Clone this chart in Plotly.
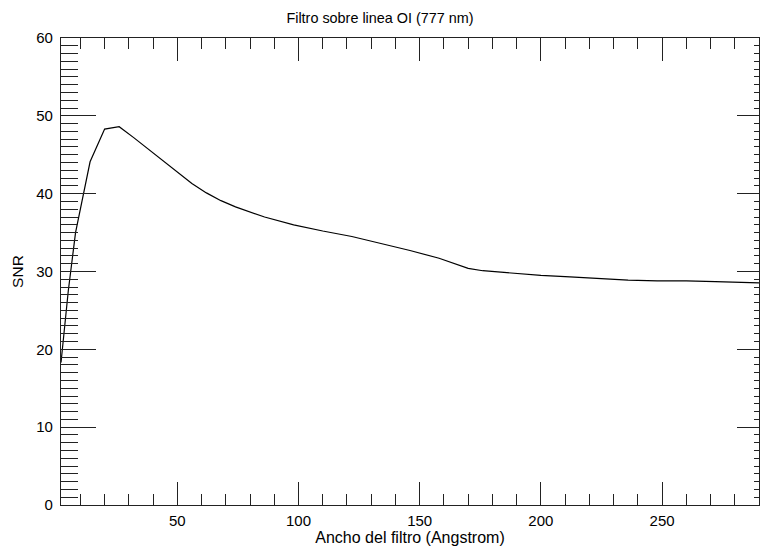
import plotly.graph_objects as go

ancho = [2, 5, 8, 14, 20, 26, 32, 38, 50, 56, 62, 68, 74, 86, 98, 110, 122, 134, 146, 158,
         164, 170, 176, 188, 200, 212, 224, 236, 248, 260, 272, 284, 290]
snr = [18.3, 27.5, 35.0, 44.1, 48.3, 48.6, 47.2, 45.7, 42.8, 41.3, 40.1, 39.1, 38.3,
       37.0, 36.0, 35.2, 34.5, 33.6, 32.7, 31.7, 31.0, 30.4, 30.1, 29.8, 29.5, 29.3,
       29.1, 28.9, 28.8, 28.8, 28.7, 28.6, 28.55]

x_range = [2, 290]
y_range = [0, 60]
x_ticks = [50, 100, 150, 200, 250]
y_ticks = [0, 10, 20, 30, 40, 50, 60]

font = "Liberation Sans, Arial, Helvetica, sans-serif"
axcol = "#222222"

fig = go.Figure()
fig.add_trace(go.Scatter(x=ancho, y=snr, mode="lines",
                         line=dict(color="black", width=1.2),
                         hoverinfo="skip", showlegend=False))
fig.add_trace(go.Scatter(x=ancho, y=snr, mode="lines", xaxis="x2", yaxis="y2",
                         line=dict(color="rgba(0,0,0,0)", width=0),
                         hoverinfo="skip", showlegend=False))

fig.update_layout(
    width=760, height=546,
    margin=dict(l=61, r=1, t=38, b=41),
    paper_bgcolor="white", plot_bgcolor="white",
    font=dict(family=font, size=15, color="black"),
    title=dict(text="Filtro sobre linea OI (777 nm)", x=0.5, xanchor="center",
               y=1 - 18 / 546, yanchor="middle", font=dict(size=14.4)),
    xaxis=dict(range=x_range, tickvals=x_ticks, ticks="inside", ticklen=23,
               tickwidth=1.3, tickcolor=axcol, showline=True, linecolor=axcol,
               linewidth=1.3, mirror=False, showgrid=False, zeroline=False,
               automargin=False,
               minor=dict(dtick=10, tick0=0, ticks="inside", ticklen=11,
                          tickwidth=1.3, tickcolor=axcol, showgrid=False),
               title=dict(text="Ancho del filtro (Angstrom)", standoff=0,
                          font=dict(size=16)),
               ticklabelstandoff=2, tickfont=dict(size=15)),
    yaxis=dict(range=y_range, tickvals=y_ticks, ticks="inside", ticklen=35,
               tickwidth=1.3, tickcolor=axcol, showline=True, linecolor=axcol,
               linewidth=1.3, mirror=False, showgrid=False, zeroline=False,
               automargin=False,
               minor=dict(dtick=1, tick0=0, ticks="inside", ticklen=17,
                          tickwidth=1.3, tickcolor=axcol, showgrid=False),
               title=dict(text="SNR", standoff=8, font=dict(size=15.5)),
               ticklabelstandoff=4, tickfont=dict(size=15)),
    xaxis2=dict(range=x_range, overlaying="x", side="top", anchor="y2",
                tickvals=x_ticks, ticks="inside", ticklen=23, tickwidth=1.3,
                tickcolor=axcol, showline=True, linecolor=axcol, linewidth=1.3,
                showticklabels=False, showgrid=False, zeroline=False,
                automargin=False,
                minor=dict(dtick=10, tick0=0, ticks="inside", ticklen=11,
                           tickwidth=1.3, tickcolor=axcol, showgrid=False)),
    yaxis2=dict(range=y_range, overlaying="y", side="right", anchor="x2",
                tickvals=y_ticks, ticks="inside", ticklen=22, tickwidth=1.3,
                tickcolor=axcol, showline=True, linecolor=axcol, linewidth=1.3,
                showticklabels=False, showgrid=False, zeroline=False,
                automargin=False,
                minor=dict(dtick=1, tick0=0, ticks="inside", ticklen=5,
                           tickwidth=1.3, tickcolor=axcol, showgrid=False)),
)

fig.write_html("out.html", config={"displayModeBar": False},
               post_script="document.body.style.margin='0';"
                           "document.body.style.overflow='hidden';")
